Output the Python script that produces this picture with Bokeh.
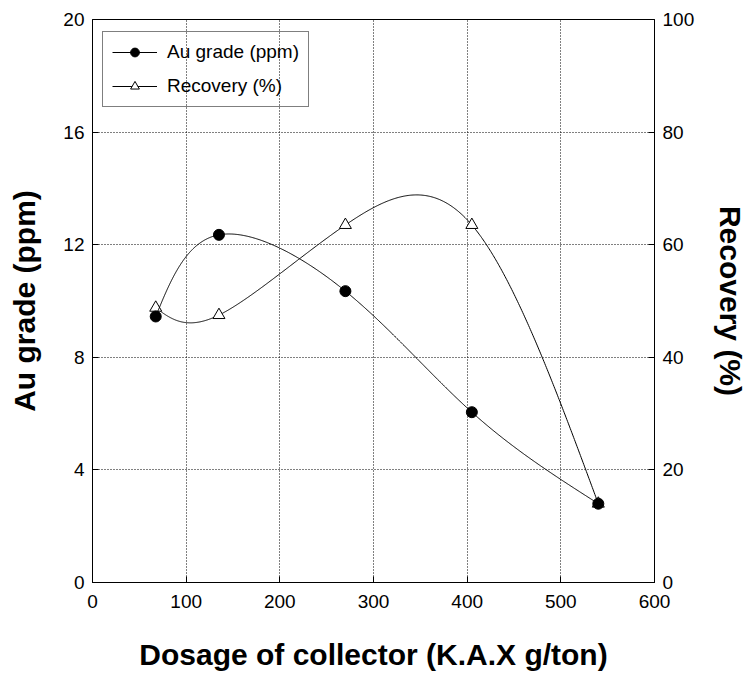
import numpy as np
from bokeh.plotting import figure
from bokeh.models import Range1d, LinearAxis, Legend, LegendItem, FixedTicker
from bokeh.embed import file_html
from bokeh.resources import INLINE

# Flotation results versus collector dosage
dosage = [67.5, 135, 270, 405, 540]          # K.A.X g/ton
au_grade = [9.45, 12.35, 10.35, 6.05, 2.8]   # ppm
recovery = [48.8, 47.5, 63.5, 63.5, 14.0]    # %

x_ticks = [0, 100, 200, 300, 400, 500, 600]
grade_ticks = [0, 4, 8, 12, 16, 20]
recovery_ticks = [0, 20, 40, 60, 80, 100]

FONT = "Liberation Sans"
FRAME_W, FRAME_H = 562, 563
X_MAX, GRADE_MAX, REC_MAX = 600, 20, 100


def natural_spline(t, v, ts):
    """Natural cubic spline through (t, v), evaluated at ts."""
    t = np.asarray(t, float)
    v = np.asarray(v, float)
    n = len(t)
    h = np.diff(t)
    A = np.zeros((n, n))
    b = np.zeros(n)
    A[0, 0] = A[-1, -1] = 1.0
    for i in range(1, n - 1):
        A[i, i - 1] = h[i - 1]
        A[i, i] = 2 * (h[i - 1] + h[i])
        A[i, i + 1] = h[i]
        b[i] = 3 * ((v[i + 1] - v[i]) / h[i] - (v[i] - v[i - 1]) / h[i - 1])
    c = np.linalg.solve(A, b)
    bc = (v[1:] - v[:-1]) / h - h * (2 * c[:-1] + c[1:]) / 3
    d = (c[1:] - c[:-1]) / (3 * h)
    idx = np.clip(np.searchsorted(t, ts) - 1, 0, n - 2)
    dt = ts - t[idx]
    return v[idx] + bc[idx] * dt + c[idx] * dt ** 2 + d[idx] * dt ** 3


def smooth_curve(x, y, y_max, samples=600):
    """Parametric spline through the points, one parameter step per point."""
    sx = np.asarray(x, float) / X_MAX * FRAME_W
    sy = np.asarray(y, float) / y_max * FRAME_H
    t = np.arange(len(sx), dtype=float)
    ts = np.linspace(0, t[-1], samples)
    cx = natural_spline(t, sx, ts) / FRAME_W * X_MAX
    cy = natural_spline(t, sy, ts) / FRAME_H * y_max
    return cx, cy


au_x, au_y = smooth_curve(dosage, au_grade, GRADE_MAX)
rec_x, rec_y = smooth_curve(dosage, recovery, REC_MAX)

p = figure(
    frame_width=FRAME_W, frame_height=FRAME_H,
    x_range=Range1d(0, X_MAX), y_range=Range1d(0, GRADE_MAX),
    output_backend="svg", toolbar_location=None,
    min_border_left=92, min_border_right=94,
    min_border_top=19, min_border_bottom=111,
    background_fill_color="white", border_fill_color="white",
)
p.extra_y_ranges = {"rec": Range1d(0, REC_MAX)}

p.outline_line_color = "black"
p.outline_line_width = 1

# dotted grid
for g in (p.xgrid, p.ygrid):
    g.grid_line_color = "black"
    g.grid_line_dash = "1 2"
    g.grid_line_width = 1
p.xgrid.ticker = FixedTicker(ticks=x_ticks)
p.ygrid.ticker = FixedTicker(ticks=grade_ticks)

right_axis = LinearAxis(y_range_name="rec")
p.add_layout(right_axis, "right")

p.xaxis.ticker = FixedTicker(ticks=x_ticks)
p.yaxis[0].ticker = FixedTicker(ticks=grade_ticks)
right_axis.ticker = FixedTicker(ticks=recovery_ticks)

p.xaxis.axis_label = "Dosage of collector (K.A.X g/ton)"
p.yaxis[0].axis_label = "Au grade (ppm)"
right_axis.axis_label = "Recovery (%)"

for ax in [p.xaxis[0], p.yaxis[0], right_axis]:
    ax.axis_line_color = "black"
    ax.axis_line_width = 1
    ax.major_tick_in = 6
    ax.major_tick_out = 0
    ax.minor_tick_line_color = None
    ax.major_tick_line_color = "black"
    ax.major_label_text_font = FONT
    ax.major_label_text_font_size = "19px"
    ax.major_label_text_color = "black"
    ax.axis_label_text_font = FONT
    ax.axis_label_text_font_size = "30px"
    ax.axis_label_text_font_style = "bold"
    ax.axis_label_text_color = "black"

p.xaxis.major_label_standoff = 12
p.xaxis.axis_label_standoff = 27
p.yaxis[0].major_label_standoff = 8
p.yaxis[0].axis_label_standoff = 19
right_axis.major_label_standoff = 8
right_axis.axis_label_standoff = 17

# recovery curve (open triangles) drawn first so the grade markers sit on top
rec_line = p.line(rec_x, rec_y, y_range_name="rec", line_color="black", line_width=1)
rec_pts = p.scatter(dosage, recovery, y_range_name="rec", marker="triangle", size=12,
                    fill_color="white", line_color="black", line_width=1)

au_line = p.line(au_x, au_y, line_color="black", line_width=1)
au_pts = p.scatter(dosage, au_grade, marker="circle", size=11,
                   fill_color="black", line_color="black")

legend = Legend(
    items=[
        LegendItem(label="Au grade (ppm)", renderers=[au_line, au_pts]),
        LegendItem(label="Recovery (%)", renderers=[rec_line, rec_pts]),
    ],
    location=(10, 475),
    border_line_color="black", border_line_width=1,
    background_fill_alpha=0,
    label_text_font=FONT, label_text_font_size="19px", label_text_color="black",
    glyph_width=45, glyph_height=22, label_height=22,
    label_standoff=10, spacing=12, padding=9, margin=0,
)
p.add_layout(legend, "center")

open("out.html", "w").write(file_html(p, INLINE))
